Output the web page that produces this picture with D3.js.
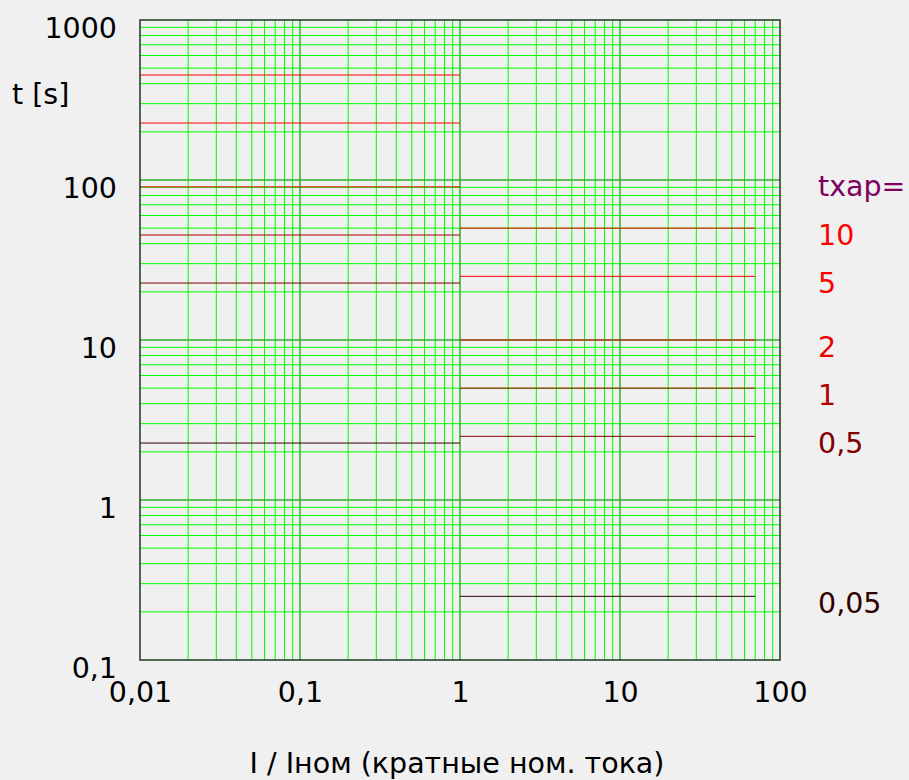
<!DOCTYPE html>
<html>
<head>
<meta charset="utf-8">
<script src="https://cdn.jsdelivr.net/npm/d3@7"></script>
<style>
	body { margin: 0; background: #f0f0f0; }
	svg { display: block; font-family: "DejaVu Sans", sans-serif; }
</style>
</head>
<body>
<div id="chart"></div>
<script>
// Data
const txapValues = [10, 5, 2, 1, 0.5, 0.05];
const txapLabels = ["10", "5", "2", "1", "0,5", "0,05"];
const txapColors = ["#ff0000", "#ff0000", "#e80000", "#b00000", "#800000", "#300000"];
const timeLow = [453, 227, 90.6, 45.3, 22.7, 2.27];   // I/Iном from 0,01 to 1
const timeHigh = [50, 25, 10, 5, 2.5, 0.25];         // I/Iном from 1 to 70
const rangeLow = [0.01, 1];
const rangeHigh = [1, 70];
const xTicks = [0.01, 0.1, 1, 10, 100];
const yTicks = [0.1, 1, 10, 100, 1000];

const width = 909, height = 780;
const margin = {top: 20, right: 129, bottom: 120, left: 140};
const fontSize = 28.5;

const svg = d3.select("#chart").append("svg")
	.attr("width", width).attr("height", height);

const x = d3.scaleLog([0.01, 100], [margin.left, width - margin.right]);
const y = d3.scaleLog([0.1, 1000], [height - margin.bottom, margin.top]);

const fmt = (d) => String(d).replace(".", ",");

// minor grid values (2..9 in each decade)
const gridX = [], gridY = [];
for (let e = -2; e < 2; e++) for (let k = 2; k <= 9; k++) gridX.push(k * Math.pow(10, e));
for (let e = -1; e < 3; e++) for (let k = 2; k <= 9; k++) gridY.push(k * Math.pow(10, e));

const grid = svg.append("g");
grid.selectAll("line.vminor").data(gridX).join("line")
	.attr("x1", (d) => x(d)).attr("x2", (d) => x(d))
	.attr("y1", y(0.1)).attr("y2", y(1000))
	.attr("stroke", "#00ff00").attr("stroke-width", 1);
grid.selectAll("line.hminor").data(gridY).join("line")
	.attr("y1", (d) => y(d)).attr("y2", (d) => y(d))
	.attr("x1", x(0.01)).attr("x2", x(100))
	.attr("stroke", "#00ff00").attr("stroke-width", 1);
grid.selectAll("line.vmajor").data(xTicks.slice(1, -1)).join("line")
	.attr("x1", (d) => x(d)).attr("x2", (d) => x(d))
	.attr("y1", y(0.1)).attr("y2", y(1000))
	.attr("stroke", "#30b030").attr("stroke-width", 1.5);
grid.selectAll("line.hmajor").data(yTicks.slice(1, -1)).join("line")
	.attr("y1", (d) => y(d)).attr("y2", (d) => y(d))
	.attr("x1", x(0.01)).attr("x2", x(100))
	.attr("stroke", "#30b030").attr("stroke-width", 1.5);

// characteristic lines
const curves = svg.append("g");
curves.selectAll("line.low").data(timeLow).join("line")
	.attr("x1", x(rangeLow[0])).attr("x2", x(rangeLow[1]))
	.attr("y1", (d) => y(d)).attr("y2", (d) => y(d))
	.attr("stroke", (d, i) => txapColors[i]).attr("stroke-width", 1);
curves.selectAll("line.high").data(timeHigh).join("line")
	.attr("x1", x(rangeHigh[0])).attr("x2", x(rangeHigh[1]))
	.attr("y1", (d) => y(d)).attr("y2", (d) => y(d))
	.attr("stroke", (d, i) => txapColors[i]).attr("stroke-width", 1);

// frame
svg.append("rect")
	.attr("x", x(0.01)).attr("y", y(1000))
	.attr("width", x(100) - x(0.01)).attr("height", y(0.1) - y(1000))
	.attr("fill", "none").attr("stroke", "#1e3a1e").attr("stroke-width", 1.5);

// axes
const axisX = svg.append("g")
	.attr("transform", `translate(0, ${y(0.1)})`)
	.call(d3.axisBottom(x).tickValues(xTicks).tickFormat(fmt).tickSize(0).tickPadding(22));
const axisY = svg.append("g")
	.attr("transform", `translate(${x(0.01)}, 0)`)
	.call(d3.axisLeft(y).tickValues(yTicks).tickFormat(fmt).tickSize(0).tickPadding(23));
[axisX, axisY].forEach((a) => {
	a.select(".domain").remove();
	a.selectAll("text").attr("font-size", fontSize).attr("font-family", "DejaVu Sans").attr("fill", "#000");
});
axisY.selectAll("text").attr("dy", "0.6em");

// labels on the right
const labelX = x(100) + 38;
svg.append("text")
	.attr("x", labelX).attr("y", y(100)).attr("dy", "0.55em")
	.attr("font-size", fontSize).attr("fill", "#800060")
	.text("txap=");
svg.selectAll("text.txap").data(timeHigh).join("text")
	.attr("x", labelX).attr("y", (d) => y(d)).attr("dy", "0.6em")
	.attr("font-size", fontSize).attr("fill", (d, i) => txapColors[i])
	.text((d, i) => txapLabels[i]);

// axis titles
svg.append("text")
	.attr("x", 12).attr("y", 104)
	.attr("font-size", fontSize).attr("fill", "#000")
	.text("t [s]");
svg.append("text")
	.attr("x", (x(0.01) + x(100)) / 2 - 3).attr("y", 773)
	.attr("text-anchor", "middle")
	.attr("font-size", fontSize).attr("fill", "#000")
	.text("I / Iном (кратные ном. тока)");
</script>
</body>
</html>
